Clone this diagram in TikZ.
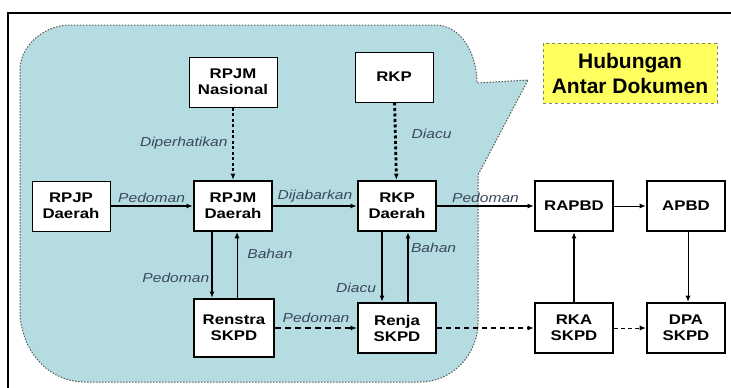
\documentclass[tikz,border=0pt]{standalone}
\usepackage{fontspec}
\setmainfont{Liberation Sans}
\newfontfamily\widesans{Liberation Sans}[FakeStretch=1.2]
\usetikzlibrary{arrows.meta}

\definecolor{calloutteal}{RGB}{181,221,225}
\definecolor{notecolor}{RGB}{58,72,92}
\definecolor{titleyellow}{RGB}{255,255,95}

\tikzset{
    doc/.style={draw,fill=white,line width=1pt,align=center,minimum width=78pt,minimum height=50pt,inner sep=1pt,
        font=\widesans\bfseries\fontsize{14}{16}\selectfont},
    maindoc/.style={doc,line width=2.6pt},
    note/.style={font=\widesans\itshape\fontsize{13}{15}\selectfont,text=notecolor,inner sep=1pt},
    link/.style={-{Latex[length=6pt,width=5pt]}}
}

\begin{document}
\begin{tikzpicture}[x=1pt,y=-1pt]
    \useasboundingbox (0,0) rectangle (731,388);
    % frame and callout
    \draw[line width=1.6pt] (8,388) -- (8,13) -- (731,13);
    \draw[fill=calloutteal,draw=gray!70!black,line width=1pt,dash pattern=on 1.5pt off 1.5pt]
        (20,70) .. controls (20,45) and (45,25) .. (70,25) -- (435,25)
        .. controls (462,25) and (477,55) .. (477,83) -- (528,80) -- (478,175) -- (478,322)
        .. controls (478,355) and (452,382) .. (420,382) -- (85,382)
        .. controls (48,382) and (20,350) .. (20,310) -- cycle;
    \node[draw=gray,dashed,fill=titleyellow,minimum width=174pt,minimum height=60pt,align=center,
        font=\bfseries\fontsize{21}{25}\selectfont] (title) at (630,73) {Hubungan\\Antar Dokumen};

    % documents
    \node[doc,minimum width=88pt] (rpjmn) at (233,82) {RPJM\\Nasional};
    \node[doc] (rkp) at (394,77) {RKP};
    \node[doc] (rpjp) at (71,206) {RPJP\\Daerah};
    \node[maindoc] (rpjmd) at (233,206) {RPJM\\Daerah};
    \node[maindoc] (rkpd) at (397,206) {RKP\\Daerah};
    \node[maindoc] (rapbd) at (574,206) {RAPBD};
    \node[maindoc] (apbd) at (686,206) {APBD};
    \node[maindoc,minimum width=80pt,minimum height=58pt] (renstra) at (234,328) {Renstra\\SKPD};
    \node[maindoc] (renja) at (397,328) {Renja\\SKPD};
    \node[maindoc] (rka) at (574,328) {RKA\\SKPD};
    \node[maindoc] (dpa) at (686,328) {DPA\\SKPD};

    % relations
    \draw[link,line width=2.8pt,dash pattern=on 3pt off 2.5pt] (rpjmn) -- node[note,left=3pt]{Diperhatikan} (rpjmd);
    \draw[link,line width=2.8pt,dash pattern=on 3pt off 2.5pt] (rkp) -- node[note,right=14pt,pos=0.4]{Diacu} (rkpd);
    \draw[link,line width=1.5pt] (rpjp) -- node[note,above=2pt]{Pedoman} (rpjmd);
    \draw[link,line width=1.2pt] (rpjmd) -- node[note,above=2pt]{Dijabarkan} (rkpd);
    \draw[link,line width=1.5pt] (rkpd) -- node[note,above=2pt]{Pedoman} (rapbd);
    \draw[link,line width=1pt] (rapbd) -- (apbd);
    \draw[link,line width=1.5pt] ([xshift=-21pt]rpjmd.south) -- node[note,left=1pt,pos=0.69]{Pedoman} ([xshift=-22pt]renstra.north);
    \draw[link,line width=0.8pt] ([xshift=3pt]renstra.north) -- node[note,right=9pt,pos=0.67]{Bahan} ([xshift=4pt]rpjmd.south);
    \draw[link,line width=2pt] ([xshift=-15pt]rkpd.south) -- node[note,left=4pt,pos=0.8]{Diacu} ([xshift=-15pt]renja.north);
    \draw[link,line width=2pt] ([xshift=11pt]renja.north) -- node[note,right=1pt,pos=0.77]{Bahan} ([xshift=11pt]rkpd.south);
    \draw[link,line width=1.2pt] (rka) -- (rapbd);
    \draw[link,line width=0.8pt] ([xshift=2pt]apbd.south) -- ([xshift=2pt]dpa.north);
    \draw[link,line width=1.5pt,dash pattern=on 6pt off 4pt] (renstra) -- node[note,above=4pt]{Pedoman} (renja);
    \draw[link,line width=1.2pt,dash pattern=on 5pt off 4pt] (renja) -- (rka);
    \draw[link,line width=0.8pt,dash pattern=on 4pt off 3pt] (rka) -- (dpa);
\end{tikzpicture}
\end{document}
